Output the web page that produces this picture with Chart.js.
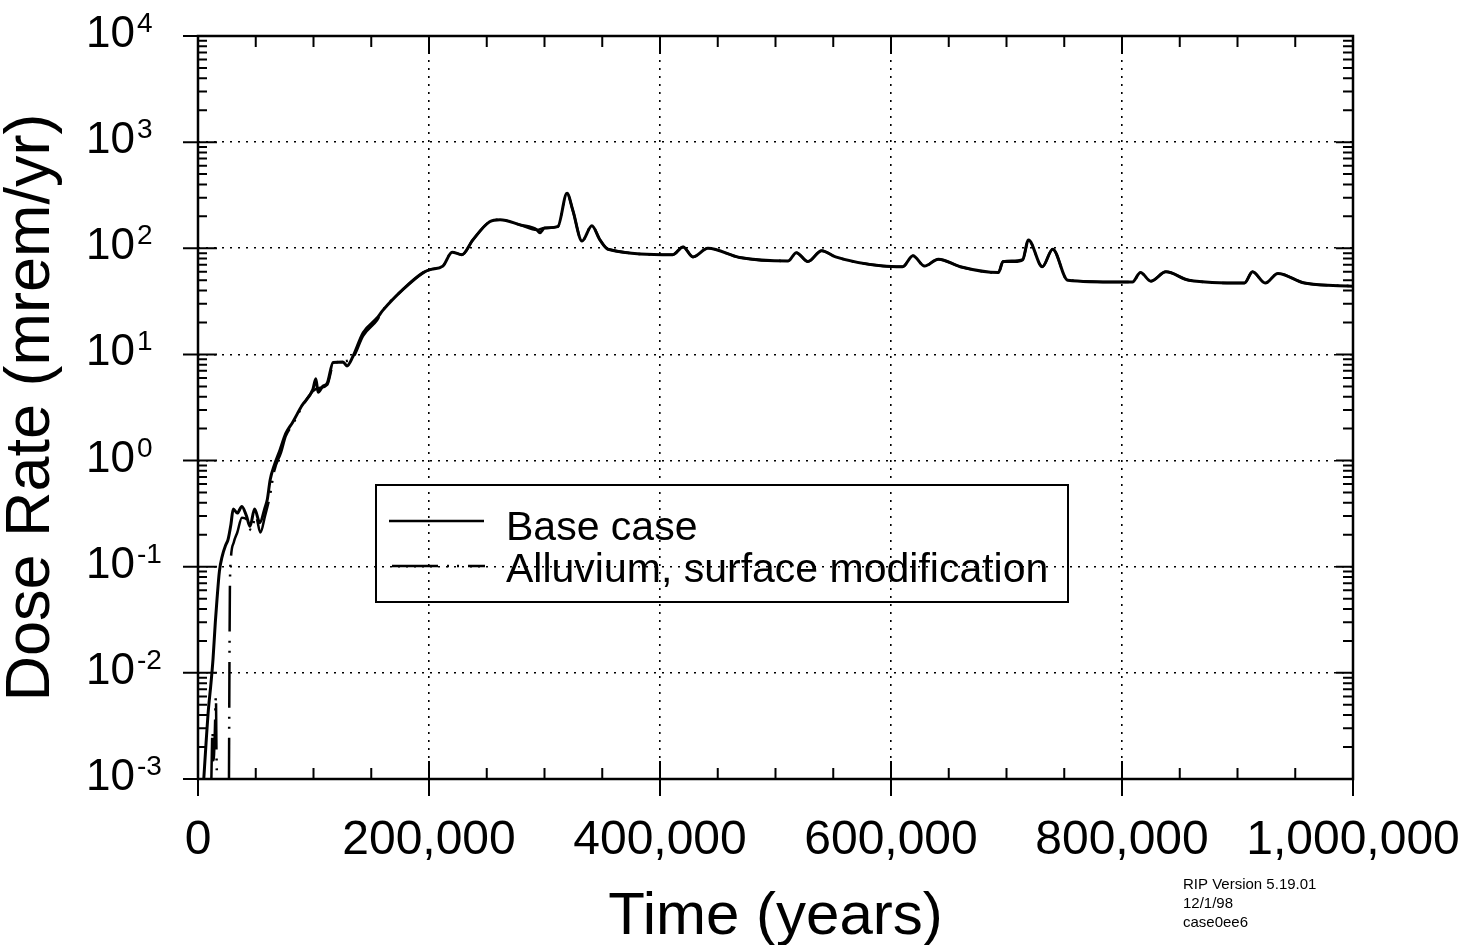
<!DOCTYPE html>
<html>
<head>
<meta charset="utf-8">
<script src="https://cdn.jsdelivr.net/npm/chart.js@4.4.0/dist/chart.umd.min.js"></script>
<style>
html,body{margin:0;padding:0;background:#fff;}
canvas{display:block;}
</style>
</head>
<body>
<canvas id="doseChart" width="1481" height="945"></canvas>
<script>
// Data
const baseYears=[5000,7000,9000,11000,13000,15000,16500,18500,21000,24000,26000,28500,30500,34000,38000,42000,45000,49000,53500,58000,
  60000,62500,66000,71000,76000,82000,90000,99500,102000,104000,108000,112000,117000,125500,129000,134000,143000,155000,160000,177500,
  195000,201000,212000,220000,228500,238000,252500,261500,279000,293500,296000,300000,311500,319500,324500,332500,341000,348000,355000,411000,
  420000,428500,441500,469000,511000,518000,528000,540000,552000,593000,610000,619000,629000,641000,660000,693000,697000,707000,714000,719000,
  731000,740000,753000,798000,809000,816000,825000,838000,858000,906000,913000,924000,935000,958000,1000000];
const baseDose=[0.001,0.0022,0.0045,0.0075,0.0135,0.03,0.05,0.09,0.126,0.16,0.18,0.25,0.35,0.32,0.37,0.3,0.24,0.35,0.26,0.36,
  0.43,0.66,0.9,1.26,1.8,2.3,3.3,4.7,5.9,4.4,5.0,5.4,8.4,8.5,7.8,9.5,16,22,26,41,
  59,63,68,92,87,120,178,186,166,149,140,155,160,330,228,117,163,120,98,87,
  103,83,100,82,76,91,75,95,83,68,67,85,68,79,67,59,75,75,78,120,
  67,98,50,48,48,59,49,60,50,47,60,47,58,47,44];

const alluvYears=[11500,12500,13500,14500,15500,16000,16500,20000,26800,27200,27600,28500,31000,34000,38000,42000,46000,50000,54000,58000,
  62000,66000,72000,76000,82000,90000,99500,104000,112000,117000,125500,134000,143000,155000,160000,177500,195000,201000,212000,220000,
  228500,238000,252500,261500,279000,293500,300000,311500,319500,324500,332500,341000,348000,355000,411000,420000,428500,441500,469000,511000,
  518000,528000,540000,552000,593000,610000,619000,629000,641000,660000,693000,697000,714000,719000,731000,740000,753000,809000,816000,825000,
  838000,858000,906000,913000,924000,935000,958000,1000000];
const alluvDose=[0.0009,0.0028,0.0015,0.0026,0.006,0.0018,0.0009,null,0.0009,0.01,0.06,0.12,0.17,0.21,0.29,0.28,0.22,0.3,0.21,0.3,
  0.45,0.8,1.2,1.7,2.2,3.2,4.5,4.8,5.2,8.0,8.6,9.3,15,21,26,41,59,63,68,92,
  87,120,178,186,166,149,155,160,330,228,117,163,120,98,87,103,83,100,82,76,
  91,75,95,83,68,67,85,68,79,67,59,75,78,120,67,98,50,48,59,49,
  60,50,47,60,47,58,47,44];

const xTicks=[0,200000,400000,600000,800000,1000000];
const yExps=[-3,-2,-1,0,1,2,3,4];
const seriesLabels=['Base case','Alluvium, surface modification'];
const footLines=['RIP Version 5.19.01','12/1/98','case0ee6'];

const FONT='"Liberation Sans", Arial, Helvetica, sans-serif';
Chart.defaults.font.family=FONT;
Chart.defaults.color='#000';

const alluvDash=[46,9,2,8,2,9];

// frame, tick marks, superscript labels, legend, footnote
const decorations={
  id:'decorations',
  afterDatasetsDraw(chart){
    const {ctx,chartArea:a,scales:{x,y}}=chart;
    ctx.save();
    ctx.strokeStyle='#000'; ctx.fillStyle='#000';
    ctx.lineWidth=2.5;
    ctx.strokeRect(a.left,a.top,a.right-a.left,a.bottom-a.top);

    ctx.lineWidth=2;
    ctx.beginPath();
    for(let v=0;v<=1000000;v+=50000){
      const px=x.getPixelForValue(v);
      const major=xTicks.includes(v);
      ctx.moveTo(px,a.bottom+(major?17:0)); ctx.lineTo(px,a.bottom-(major?18:11));
      ctx.moveTo(px,a.top); ctx.lineTo(px,a.top+(major?18:11));
    }
    yExps.forEach(e=>{
      const py=y.getPixelForValue(Math.pow(10,e));
      ctx.moveTo(a.left-15,py); ctx.lineTo(a.left+19,py);
      ctx.moveTo(a.right-17,py); ctx.lineTo(a.right,py);
      if(e<4){
        for(let k=2;k<=9;k++){
          const pm=y.getPixelForValue(k*Math.pow(10,e));
          ctx.moveTo(a.left,pm); ctx.lineTo(a.left+9,pm);
          ctx.moveTo(a.right-10,pm); ctx.lineTo(a.right,pm);
        }
      }
    });
    ctx.stroke();

    // y labels 10^n
    yExps.forEach(e=>{
      const py=y.getPixelForValue(Math.pow(10,e));
      ctx.font='44px '+FONT; ctx.textAlign='right'; ctx.textBaseline='alphabetic';
      ctx.fillText('10',135,py+11);
      ctx.font='28px '+FONT; ctx.textAlign='left';
      ctx.fillText(String(e),137,py-4);
    });

    // legend
    ctx.lineWidth=2;
    ctx.strokeRect(376,485,692,117);
    ctx.lineWidth=2.5;
    ctx.beginPath(); ctx.moveTo(389,521); ctx.lineTo(484,521); ctx.stroke();
    ctx.setLineDash(alluvDash);
    ctx.beginPath(); ctx.moveTo(392,566); ctx.lineTo(485,566); ctx.stroke();
    ctx.setLineDash([]);
    ctx.font='41px '+FONT; ctx.textAlign='left';
    ctx.fillText(seriesLabels[0],506,540);
    ctx.fillText(seriesLabels[1],506,582);

    // footnote
    ctx.font='15px '+FONT;
    footLines.forEach((t,i)=>ctx.fillText(t,1183,889+i*19));
    ctx.restore();
  }
};

const ctx=document.getElementById('doseChart').getContext('2d');
new Chart(ctx,{
  type:'line',
  data:{
    datasets:[
      {label:seriesLabels[0],data:baseYears.map((t,i)=>({x:t,y:baseDose[i]})),borderColor:'#000',borderWidth:3,
       pointRadius:0,fill:false,cubicInterpolationMode:'monotone'},
      {label:seriesLabels[1],data:alluvYears.map((t,i)=>({x:t,y:alluvDose[i]})),borderColor:'#000',borderWidth:2.5,
       borderDash:alluvDash,pointRadius:0,fill:false,cubicInterpolationMode:'monotone'}
    ]
  },
  options:{
    responsive:false,animation:false,devicePixelRatio:1,
    layout:{padding:{left:0,right:128,top:36,bottom:0}},
    plugins:{legend:{display:false},tooltip:{enabled:false}},
    scales:{
      x:{type:'linear',min:0,max:1000000,
        afterBuildTicks:s=>{s.ticks=xTicks.map(v=>({value:v}));},
        ticks:{callback:v=>v.toLocaleString('en-US'),font:{size:48},color:'#000',padding:33,maxRotation:0,autoSkip:false},
        grid:{color:'#000',lineWidth:1.6,drawTicks:false},
        border:{display:false,dash:[2,6]},
        title:{display:true,text:'Time (years)',font:{size:60,lineHeight:1},padding:{top:0,bottom:-2}},
        afterFit:s=>{s.height=166;s.paddingLeft=0;s.paddingRight=0;}
      },
      y:{type:'logarithmic',min:0.001,max:10000,
        afterBuildTicks:s=>{s.ticks=yExps.map(e=>({value:Math.pow(10,e)}));},
        ticks:{display:false},
        grid:{color:'#000',lineWidth:1.6,drawTicks:false},
        border:{display:false,dash:[2,6]},
        title:{display:true,text:'Dose Rate (mrem/yr)',font:{size:63,lineHeight:1},padding:0},
        afterFit:s=>{s.width=198;s.paddingTop=0;s.paddingBottom=0;}
      }
    }
  },
  plugins:[decorations]
});
</script>
</body>
</html>
